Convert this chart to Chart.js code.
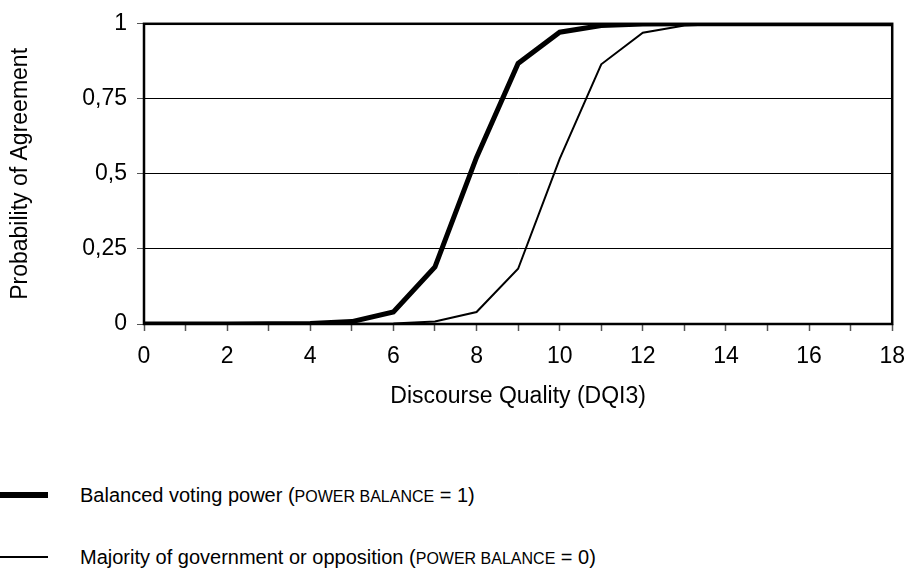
<!DOCTYPE html>
<html>
<head>
<meta charset="utf-8">
<script src="https://cdn.jsdelivr.net/npm/chart.js@4"></script>
<style>
  html, body { margin: 0; padding: 0; background: #fff; }
  #wrap { position: relative; width: 917px; height: 574px; font-family: "Liberation Sans", Arial, sans-serif; color: #000; }
  #c { position: absolute; left: 0; top: 0; }
  .leg { position: absolute; left: 0; width: 917px; height: 30px; }
  .leg .ln { position: absolute; left: 0; width: 48px; background: #000; }
  .leg .tx { position: absolute; left: 80px; top: 0; line-height: 30px; font-size: 20px; white-space: nowrap; }
  .leg .sc { font-size: 16px; }
</style>
</head>
<body>
<div id="wrap">
  <canvas id="c" width="917" height="420"></canvas>
  <div class="leg" style="top:480px;">
    <div class="ln" style="top:12px;height:6px;"></div>
    <div class="tx">Balanced voting power (<span class="sc">POWER BALANCE</span> = 1)</div>
  </div>
  <div class="leg" style="top:542px;">
    <div class="ln" style="top:14px;height:2px;"></div>
    <div class="tx">Majority of government or opposition (<span class="sc">POWER BALANCE</span> = 0)</div>
  </div>
</div>
<script>
const dqi = [0,1,2,3,4,5,6,7,8,9,10,11,12,13,14,15,16,17,18];
const balancedPower = [0,0,0,0.0005,0.002,0.008,0.04,0.19,0.555,0.868,0.972,0.994,0.999,1,1,1,1,1,1];
const majorityPower = [0,0,0,0,0,0.0005,0.002,0.008,0.04,0.184,0.55,0.865,0.97,0.994,0.999,1,1,1,1];
const yTickLabels = {0:'0', 0.25:'0,25', 0.5:'0,5', 0.75:'0,75', 1:'1'};

const FONT = "'Liberation Sans', Arial, sans-serif";

const borderPlugin = {
  id: 'plotBorder',
  afterDatasetsDraw(chart) {
    const a = chart.chartArea, ctx = chart.ctx;
    ctx.save();
    ctx.strokeStyle = '#000';
    ctx.lineWidth = 2.5;
    ctx.strokeRect(a.left, a.top, a.right - a.left, a.bottom - a.top);
    ctx.restore();
  }
};

new Chart(document.getElementById('c'), {
  type: 'line',
  data: {
    datasets: [
      { label: 'Balanced voting power', data: dqi.map((x,i)=>({x, y: balancedPower[i]})),
        borderColor: '#000', borderWidth: 5, pointRadius: 0, tension: 0, fill: false },
      { label: 'Majority of government or opposition', data: dqi.map((x,i)=>({x, y: majorityPower[i]})),
        borderColor: '#000', borderWidth: 2, pointRadius: 0, tension: 0, fill: false }
    ]
  },
  options: {
    responsive: false,
    animation: false,
    events: [],
    layout: { padding: { left: 0, top: 20, right: 14, bottom: 10 } },
    plugins: { legend: { display: false }, tooltip: { enabled: false } },
    scales: {
      x: {
        type: 'linear', min: 0, max: 18,
        afterFit(s) { s.height = 86; },
        border: { display: false },
        grid: { drawOnChartArea: false, drawTicks: true, tickLength: 7, tickColor: '#555', tickWidth: 1.5 },
        ticks: { stepSize: 1, autoSkip: false, maxRotation: 0, padding: 12, color: '#000',
          font: { family: FONT, size: 23 },
          callback: v => (v % 2 === 0 ? String(v) : '') },
        title: { display: true, text: 'Discourse Quality (DQI3)', color: '#000',
          font: { family: FONT, size: 23 }, padding: { top: 0, bottom: 0 } }
      },
      y: {
        min: 0, max: 1,
        afterFit(s) { s.width = 144; },
        border: { display: false },
        grid: { color: '#000', lineWidth: 1, tickLength: 7, tickColor: '#555' },
        ticks: { stepSize: 0.25, padding: 10, color: '#000',
          font: { family: FONT, size: 23 },
          callback: v => yTickLabels[v] !== undefined ? yTickLabels[v] : '' },
        title: { display: true, text: 'Probability of Agreement', color: '#000',
          font: { family: FONT, size: 23 }, padding: { top: 7, bottom: 0 } }
      }
    }
  },
  plugins: [borderPlugin]
});
</script>
</body>
</html>
